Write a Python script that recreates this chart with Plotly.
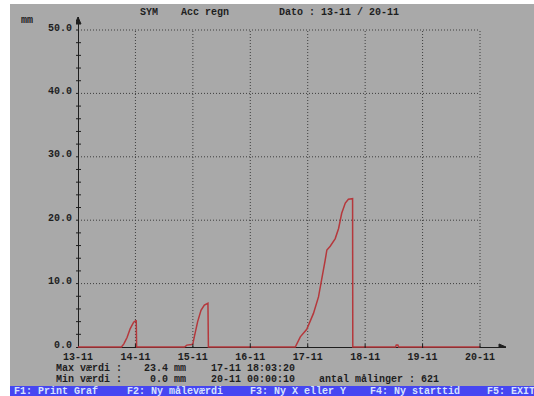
import plotly.graph_objects as go

# ---- gauge readings: accumulated rain (mm), 13-11 .. 20-11 ----
timestamps = [
    "13-11 00:00:10", "13-11 18:10:00", "13-11 19:10:00", "13-11 20:30:00",
    "13-11 21:50:00", "13-11 23:15:00", "14-11 00:20:00", "14-11 00:30:00",
    "14-11 20:30:00", "14-11 21:30:00", "14-11 23:30:00", "15-11 00:00:00",
    "15-11 00:36:00", "15-11 02:00:00", "15-11 03:24:00", "15-11 04:48:00",
    "15-11 06:18:00", "15-11 06:30:00",
    "16-11 18:48:00", "16-11 20:54:00", "16-11 23:36:00", "17-11 00:18:00",
    "17-11 02:24:00", "17-11 04:30:00", "17-11 05:54:00", "17-11 07:18:00",
    "17-11 08:00:00", "17-11 09:24:00", "17-11 11:30:00", "17-11 12:54:00",
    "17-11 14:12:00", "17-11 15:42:00", "17-11 17:00:00", "17-11 18:03:20",
    "17-11 18:45:00", "17-11 18:50:00",
    "18-11 12:40:00", "18-11 13:00:00", "18-11 13:40:00", "18-11 14:00:00",
    "20-11 00:00:10",
]
rain_mm = [
    0.0, 0.0, 0.5, 1.5,
    2.9, 3.9, 4.2, 0.0,
    0.0, 0.3, 0.4, 0.5,
    1.6, 4.0, 5.8, 6.6,
    6.9, 0.0,
    0.0, 1.6, 2.8, 3.5,
    5.3, 7.9, 10.6, 13.7,
    15.3, 15.9, 17.1, 18.7,
    21.1, 22.7, 23.3, 23.4,
    23.4, 0.0,
    0.0, 0.3, 0.3, 0.0,
    0.0,
]
day_labels = ["13-11", "14-11", "15-11", "16-11", "17-11", "18-11", "19-11", "20-11"]
y_ticks = [0, 10, 20, 30, 40, 50]
y_minor = list(range(2, 51, 2))
n_measurements = 621
function_keys = ["F1: Print Graf", "F2: Ny måleværdi", "F3: Ny X eller Y",
                 "F4: Ny starttid", "F5: EXIT"]

NBSP = "\u00a0"


def hours_since_start(ts):
    day_part, clock = ts.split(" ")
    day = int(day_part.split("-")[0]) - int(day_labels[0].split("-")[0])
    hh, mi, ss = (int(v) for v in clock.split(":"))
    return day * 24 + hh + mi / 60 + ss / 3600


x_hours = [hours_since_start(t) for t in timestamps]
day_hours = [24 * i for i in range(len(day_labels))]

# statistics shown under the graph
max_val = max(rain_mm)
max_time = timestamps[rain_mm.index(max_val)]
min_val = min(rain_mm)
min_time = [t for t, v in zip(timestamps, rain_mm) if v == min_val][-1]

# ---- page geometry ----
W, H = 534, 396
ML, MR, MT, MB = 76, 28, 17, 48
PW, PH = W - ML - MR, H - MT - MB
PX_PER_HOUR = 57.43 / 24
PX_PER_MM = 6.34
X0_PX, Y0_PX = 78, 347          # where 13-11 / 0.0 sit on the page


def px(x):
    return (x - ML) / PW


def py(y):
    return (H - MB - y) / PH


BG = "#a9a9a9"
INK = "#1e1e1e"
RED = "#b5383c"
GRID = "#3e3e3e"
BAR = "#4646f2"
BAR_TEXT = "#d6e2ff"
MONO = "Liberation Mono, DejaVu Sans Mono, monospace"
FS = 10

fig = go.Figure()
fig.add_trace(go.Scatter(
    x=x_hours, y=rain_mm, mode="lines",
    line=dict(color=RED, width=1.5), hoverinfo="skip", showlegend=False,
))

shapes = []
# dotted grid
for h in day_hours[1:]:
    shapes.append(dict(type="line", xref="x", yref="y", x0=h, x1=h, y0=0, y1=y_ticks[-1],
                       line=dict(color=GRID, width=1, dash="1px,2px"), layer="below"))
for v in y_ticks[1:]:
    shapes.append(dict(type="line", xref="x", yref="y", x0=0, x1=day_hours[-1], y0=v, y1=v,
                       line=dict(color=GRID, width=1, dash="1px,2px"), layer="below"))
# tick marks crossing the axes
for v in y_minor:
    major = v % 10 == 0
    shapes.append(dict(type="line", xref="x", yref="y", xsizemode="pixel", xanchor=0,
                       x0=-4 if major else -3, x1=0 if major else 3, y0=v, y1=v,
                       line=dict(color=INK, width=1)))
for h in day_hours[1:]:
    shapes.append(dict(type="line", xref="x", yref="y", ysizemode="pixel", yanchor=0,
                       x0=h, x1=h, y0=-3, y1=3, line=dict(color=INK, width=1)))

x_rng = [(ML - X0_PX) / PX_PER_HOUR, (W - MR - X0_PX) / PX_PER_HOUR]
y_rng = [-(H - MB - Y0_PX) / PX_PER_MM, (Y0_PX - MT) / PX_PER_MM]

# arrow heads
shapes.append(dict(type="path", xref="x", yref="y", xsizemode="pixel", ysizemode="pixel",
                   xanchor=0, yanchor=y_rng[1], path="M -3,-7 L 0,0 L 3,-7 Z",
                   fillcolor=INK, line=dict(color=INK, width=1)))
shapes.append(dict(type="path", xref="x", yref="y", xsizemode="pixel", ysizemode="pixel",
                   xanchor=x_rng[1], yanchor=0, path="M -7,3 L 0,0 L -7,-3 Z",
                   fillcolor=INK, line=dict(color=INK, width=1)))

# page frame: white strips and function key bar
shapes.append(dict(type="rect", xref="paper", yref="paper", x0=px(0), x1=px(10),
                   y0=py(H), y1=py(0), fillcolor="white", line=dict(width=0), layer="below"))
shapes.append(dict(type="rect", xref="paper", yref="paper", x0=px(0), x1=px(W),
                   y0=py(4), y1=py(0), fillcolor="white", line=dict(width=0), layer="below"))
shapes.append(dict(type="rect", xref="paper", yref="paper", x0=px(10), x1=px(W),
                   y0=py(H), y1=py(386), fillcolor=BAR, line=dict(width=0), layer="below"))

txt_font = dict(family=MONO, size=FS, color=INK, weight="bold")
annotations = []


def label(x, y, text, color=INK):
    annotations.append(dict(x=px(x), y=py(y), xref="paper", yref="paper",
                            text=text.replace(" ", NBSP),
                            showarrow=False, xanchor="left", yanchor="middle",
                            font=dict(family=MONO, size=FS, color=color, weight="bold")))


# screen columns of the text rows below the graph
COL0, COLW = 54, 6.75


def col(c):
    return COL0 + c * COLW


label(138, 12, "SYM")
label(179, 12, "Acc regn")
label(277, 12, f"Dato : {day_labels[0]} / {day_labels[-1]}")
label(19, 20, "mm")

ROW1, ROW2 = 368, 379.5
label(col(0), ROW1, "Max værdi :")
label(col(13), ROW1, f"{max_val:4.1f} mm")
label(col(23), ROW1, max_time)
label(col(0), ROW2, "Min værdi :")
label(col(13), ROW2, f"{min_val:4.1f} mm")
label(col(23), ROW2, min_time)
label(col(39), ROW2, f"antal målinger : {n_measurements}")

for x, key in zip([12, 125, 248, 368, 485], function_keys):
    label(x, 391.5, key, color=BAR_TEXT)

axis_common = dict(showgrid=False, zeroline=True, zerolinecolor=INK, zerolinewidth=1,
                   showline=False, ticks="", tickfont=txt_font, fixedrange=True)

fig.update_layout(
    width=W, height=H,
    margin=dict(l=ML, r=MR, t=MT, b=MB, pad=0),
    paper_bgcolor=BG, plot_bgcolor=BG,
    xaxis=dict(range=x_rng, tickvals=day_hours, ticktext=day_labels,
               ticklabelstandoff=1, **axis_common),
    yaxis=dict(range=y_rng, tickvals=y_ticks, ticktext=[f"{v:.1f}" for v in y_ticks],
               ticklabelstandoff=3, ticklabelshift=-3, **axis_common),
    shapes=shapes, annotations=annotations,
    showlegend=False,
)

fig.write_html("out.html")
